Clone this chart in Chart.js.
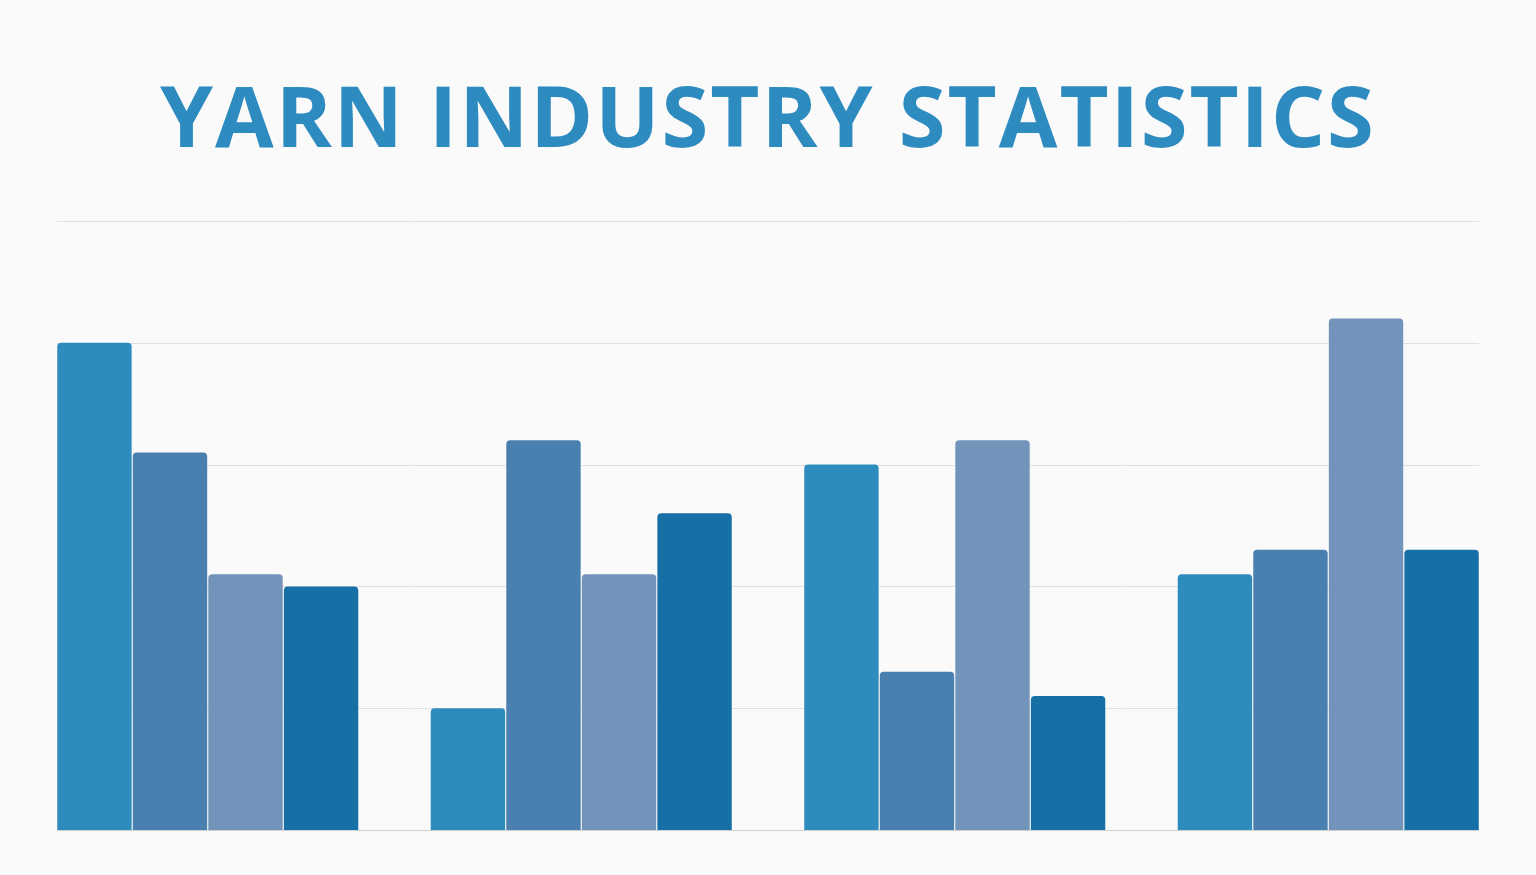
<!DOCTYPE html>
<html>
<head>
<meta charset="utf-8">
<script src="https://cdn.jsdelivr.net/npm/chart.js@4/dist/chart.umd.min.js"></script>
<style>
  html, body { margin: 0; padding: 0; background: #fafafa; width: 1536px; height: 875px; overflow: hidden; }
  #title { position: absolute; left: 0; top: 64px; width: 1536px; text-align: center;
           font-family: "Open Sans", "Noto Sans", sans-serif; font-weight: 700; font-size: 85px;
           letter-spacing: 2px; color: #2e8bc0; line-height: 100px; }
  #wrap { position: absolute; left: 21px; top: 219px; width: 1494px; height: 612px; }
</style>
</head>
<body>
<div id="title">YARN INDUSTRY STATISTICS</div>
<div id="wrap"><canvas id="myChart"></canvas></div>
<script>
// Data
const categories = ['A', 'B', 'C', 'D'];
const series1 = [40, 10, 30, 21];
const series2 = [31, 32, 13, 23];
const series3 = [21, 21, 32, 42];
const series4 = [20, 26, 11, 23];
const gridValues = [0, 10, 20, 30, 40, 50];
const colors = ['#2e8bbe', '#4a80b0', '#7293ba', '#1670a5'];

// gridlines only span the bars' extent, not the whole canvas
const gridPlugin = {
  id: 'shortGrid',
  beforeDatasetsDraw(chart) {
    const ctx = chart.ctx, y = chart.scales.y, a = chart.chartArea;
    const x0 = a.left + 36, x1 = a.right - 36;
    ctx.save();
    ctx.lineWidth = 1;
    gridValues.forEach(v => {
      const py = Math.round(y.getPixelForValue(v)) + 0.5;
      ctx.strokeStyle = v === 0 ? '#cfcfcf' : '#e0e0e0';
      ctx.beginPath(); ctx.moveTo(x0, py); ctx.lineTo(x1, py); ctx.stroke();
    });
    ctx.restore();
  }
};

const data = {
  labels: categories,
  datasets: [series1, series2, series3, series4].map((s, i) => ({
    label: 'Series ' + (i + 1),
    data: s,
    backgroundColor: colors[i],
    borderRadius: { topLeft: 4, topRight: 4 },
    borderSkipped: 'bottom',
    barPercentage: 0.985,
    categoryPercentage: 0.809
  }))
};

new Chart(document.getElementById('myChart'), {
  type: 'bar',
  data: data,
  plugins: [gridPlugin],
  options: {
    responsive: true,
    maintainAspectRatio: false,
    animation: false,
    layout: { padding: { top: 2, bottom: 1 } },
    plugins: { legend: { display: false }, tooltip: { enabled: false } },
    scales: {
      x: {
        grid: { display: false, drawTicks: false },
        border: { display: false },
        ticks: { display: false }
      },
      y: {
        min: 0, max: 50,
        grid: { display: false, drawTicks: false },
        border: { display: false },
        ticks: { display: false, stepSize: 10 }
      }
    }
  }
});
</script>
</body>
</html>
